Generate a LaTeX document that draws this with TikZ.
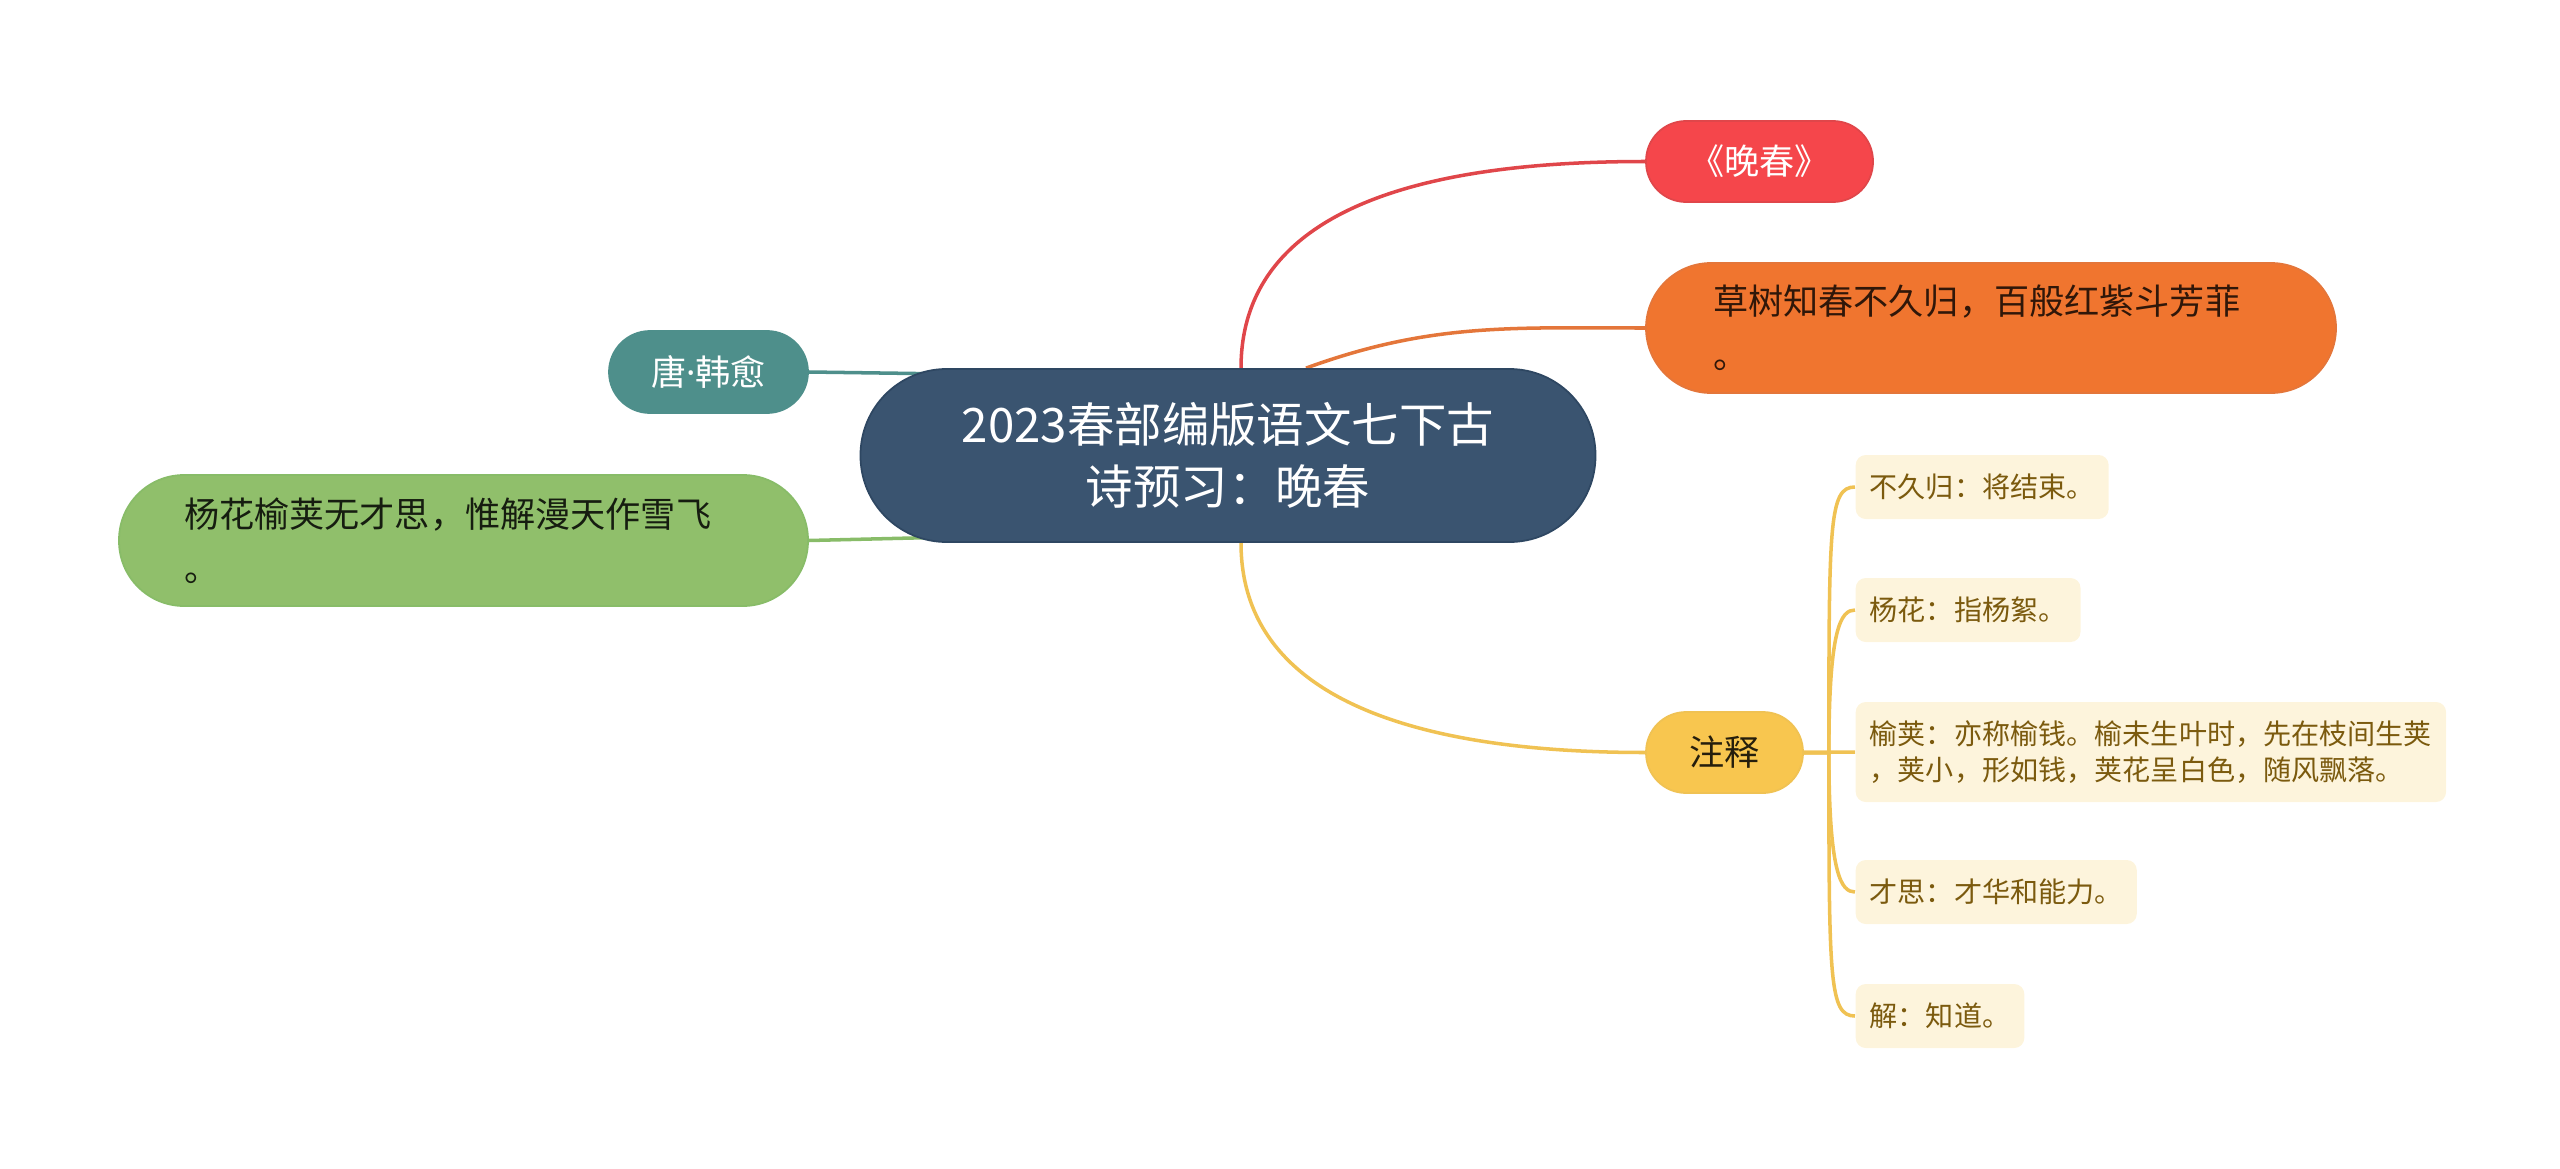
\documentclass[tikz,border=0pt]{standalone}
\usepackage{fontspec}
\setmainfont{Noto Sans CJK SC}
\newfontfamily\latinfont{Noto Sans}
\usetikzlibrary{backgrounds}
\definecolor{rootblue}{HTML}{3A5470}
\definecolor{rootedge}{HTML}{2E4762}
\definecolor{redfill}{HTML}{F5464B}
\definecolor{redline}{HTML}{E0464A}
\definecolor{orangefill}{HTML}{F0752F}
\definecolor{orangeline}{HTML}{E4763A}
\definecolor{yellowfill}{HTML}{F8C64F}
\definecolor{yellowline}{HTML}{F0C253}
\definecolor{tealfill}{HTML}{4E8F8B}
\definecolor{greenfill}{HTML}{90BF6B}
\definecolor{greenline}{HTML}{88BC68}
\definecolor{leaffill}{HTML}{FDF4DC}
\definecolor{leaftext}{HTML}{7B5A0E}
\begin{document}
\begin{tikzpicture}
  \tikzstyle{topic}=[draw, line width=0.5pt, inner sep=0pt, text=white, font=\fontsize{10}{15.3}\selectfont]
  \tikzstyle{leaf}=[fill=leaffill, rounded corners=0.1cm, inner xsep=0.14cm, inner ysep=0pt, minimum height=0.64cm, anchor=west, align=left, text=leaftext, font=\fontsize{8}{10.2}\selectfont]
  \tikzstyle{link}=[line width=1pt]
  \useasboundingbox (0,0) rectangle (25.6,-11.69);

  % Node definitions
  \node[topic, fill=rootblue, draw=rootedge, rounded corners=0.86cm, minimum width=7.35cm, minimum height=1.73cm, align=center, font=\fontsize{13.5}{17.6}\selectfont] (root) at (12.28,-4.555) {2023春部编版语文七下古\\诗预习：晚春};
  \node[topic, fill=redfill, draw=redline, rounded corners=0.4cm, minimum width=2.27cm, minimum height=0.81cm] (title) at (17.595,-1.615) {《晚春》};
  \node[topic, fill=orangefill, draw=orangeline, text=black!80!orangefill, rounded corners=0.65cm, inner xsep=0.67cm, text width=5.56cm, minimum height=1.30cm, align=left] (line1) at (19.91,-3.28) {草树知春不久归，百般红紫斗芳菲\\。};
  \node[topic, fill=yellowfill, draw=yellowline, text=black!85!yellowfill, rounded corners=0.4cm, minimum width=1.57cm, minimum height=0.81cm] (notes) at (17.245,-7.525) {注释};
  \node[topic, fill=tealfill, draw=tealfill, rounded corners=0.41cm, minimum width=1.99cm, minimum height=0.82cm] (author) at (7.085,-3.72) {唐{\latinfont ·}韩愈};
  \node[topic, fill=greenfill, draw=greenline, text=black!85!greenfill, rounded corners=0.65cm, inner xsep=0.65cm, text width=5.59cm, minimum height=1.31cm, align=left] (line2) at (4.635,-5.405) {杨花榆荚无才思，惟解漫天作雪飞\\。};

  % Leaf notes
  \node[leaf] (n1) at (18.55,-4.87) {不久归：将结束。};
  \node[leaf] (n2) at (18.55,-6.10) {杨花：指杨絮。};
  \node[leaf, minimum height=1.0cm] (n3) at (18.55,-7.52) {榆荚：亦称榆钱。榆未生叶时，先在枝间生荚\\，荚小，形如钱，荚花呈白色，随风飘落。};
  \node[leaf] (n4) at (18.55,-8.92) {才思：才华和能力。};
  \node[leaf] (n5) at (18.55,-10.16) {解：知道。};

  % Edge definitions
  \begin{pgfonlayer}{background}
    \draw[link, redline] ([xshift=0.13cm]root.north) to[out=90,in=180] (title.west);
    \draw[link, orangeline] ([xshift=0.78cm]root.north) to[out=20,in=180] (line1.west);
    \draw[link, yellowline] ([xshift=0.13cm]root.south) to[out=-90,in=180] (notes.west);
    \draw[link, tealfill] (author.east) -- ([xshift=1.0cm,yshift=-0.06cm]root.north west);
    \draw[link, greenline] (line2.east) -- ([xshift=1.0cm,yshift=0.06cm]root.south west);
    \draw[link, yellowline] (notes.east) -- (n3.west);
    \foreach \leaf/\dir in {n1/90, n2/90, n4/-90, n5/-90}
      \draw[link, yellowline] (notes.east) -- ++(0.25,0)
        to[out=\dir, in=180, out looseness=2.2, in looseness=0.25] (\leaf.west);
  \end{pgfonlayer}
\end{tikzpicture}
\end{document}
